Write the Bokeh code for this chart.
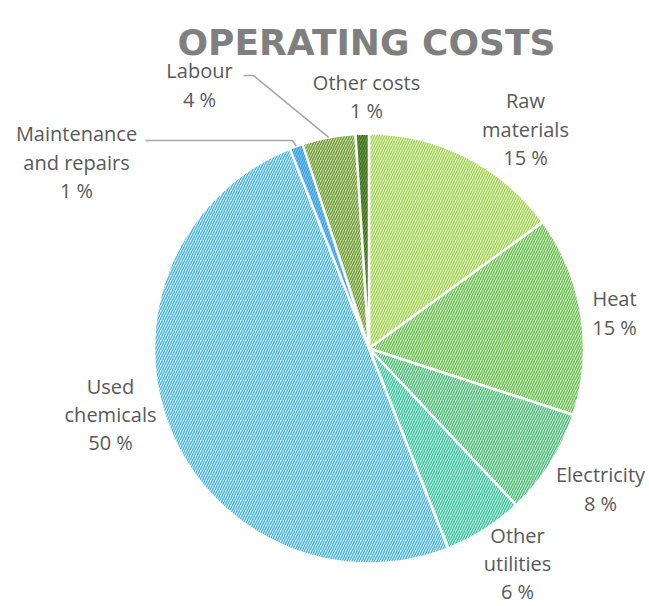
import math
from bokeh.plotting import figure
from bokeh.models import Range1d, ColumnDataSource
from bokeh.core.properties import value
from bokeh.embed import file_html
from bokeh.resources import INLINE

# ---- data ----
categories = ["Raw materials", "Heat", "Electricity", "Other utilities",
              "Used chemicals", "Maintenance and repairs", "Labour", "Other costs"]
shares = [15, 15, 8, 6, 50, 1, 4, 1]
label_lines = [["Raw", "materials", "15 %"], ["Heat", "15 %"], ["Electricity", "8 %"],
               ["Other", "utilities", "6 %"], ["Used", "chemicals", "50 %"],
               ["Maintenance", "and repairs", "1 %"], ["Labour", "4 %"], ["Other costs", "1 %"]]
title_text = "OPERATING COSTS"

# ---- styles ----
bg_colors = ["#dff3c2", "#d2efc9", "#ccedd7", "#c8efe3", "#d8f0f8", "#7cc6ef", "#cbddab", "#6e9c44"]
hatch_colors = ["#a3d257", "#68be4e", "#4bba77", "#38c49e", "#45b2dc", "#3a9fe0", "#6c9934", "#3c6e20"]

W, H = 649, 606
def dx(ix): return ix
def dy(iy): return H - iy

# layout (image pixel positions)
cx, cy, R = dx(368.5), dy(348), 215
label_centers = [(525, 128.5), (614, 312.5), (600, 488.5), (517, 563),
                 (110, 414), (76, 161.5), (199, 84.5), (366, 96)]
line_gap = 28.3

total = float(sum(shares))
starts, ends, mids = [], [], []
acc = 0.0
for s in shares:
    a0 = math.pi / 2 - 2 * math.pi * acc / total
    acc += s
    a1 = math.pi / 2 - 2 * math.pi * acc / total
    starts.append(a0); ends.append(a1); mids.append((a0 + a1) / 2)

src = ColumnDataSource(dict(cat=categories, start=starts, end=ends,
                            fill=bg_colors, hatch=hatch_colors))

p = figure(width=W, height=H, x_range=Range1d(0, W), y_range=Range1d(0, H),
           output_backend="svg", toolbar_location=None, min_border=0,
           outline_line_color=None)
p.axis.visible = False
p.grid.visible = False
p.background_fill_color = "white"

p.wedge(x=cx, y=cy, radius=R, start_angle="start", end_angle="end", direction="clock",
        source=src, fill_color="fill", hatch_pattern="/", hatch_color="hatch",
        hatch_scale=5, hatch_weight=1.3, line_color="white", line_width=2.5)

# leader lines for Maintenance and Labour
def edge_point(i):
    return cx + R * math.cos(mids[i]), cy + R * math.sin(mids[i])

mi = categories.index("Maintenance and repairs")
ex, ey = edge_point(mi)
p.line([dx(145), dx(292), ex], [dy(140), dy(140), ey], line_color="#a6a6a6", line_width=1.5)
li = categories.index("Labour")
ex, ey = edge_point(li)
p.line([dx(243), dx(253), ex], [dy(75), dy(75), ey], line_color="#a6a6a6", line_width=1.5)

tx, ty, tt = [], [], []
for (lx, ly), lines in zip(label_centers, label_lines):
    n = len(lines)
    for k, t in enumerate(lines):
        tx.append(dx(lx))
        ty.append(dy(ly + (k - (n - 1) / 2) * line_gap))
        tt.append(t)
p.text(x=tx, y=ty, text=tt, text_font=value("Open Sans"), text_font_size="20px",
       text_color="#595959", text_align="center", text_baseline="middle")

p.text(x=[dx(366)], y=[dy(42)], text=[title_text], text_font=value("DejaVu Sans"),
       text_font_size="36px", text_font_style="bold", text_color="#7f7f7f",
       text_align="center", text_baseline="alphabetic")

open("out.html", "w").write(file_html(p, INLINE))
